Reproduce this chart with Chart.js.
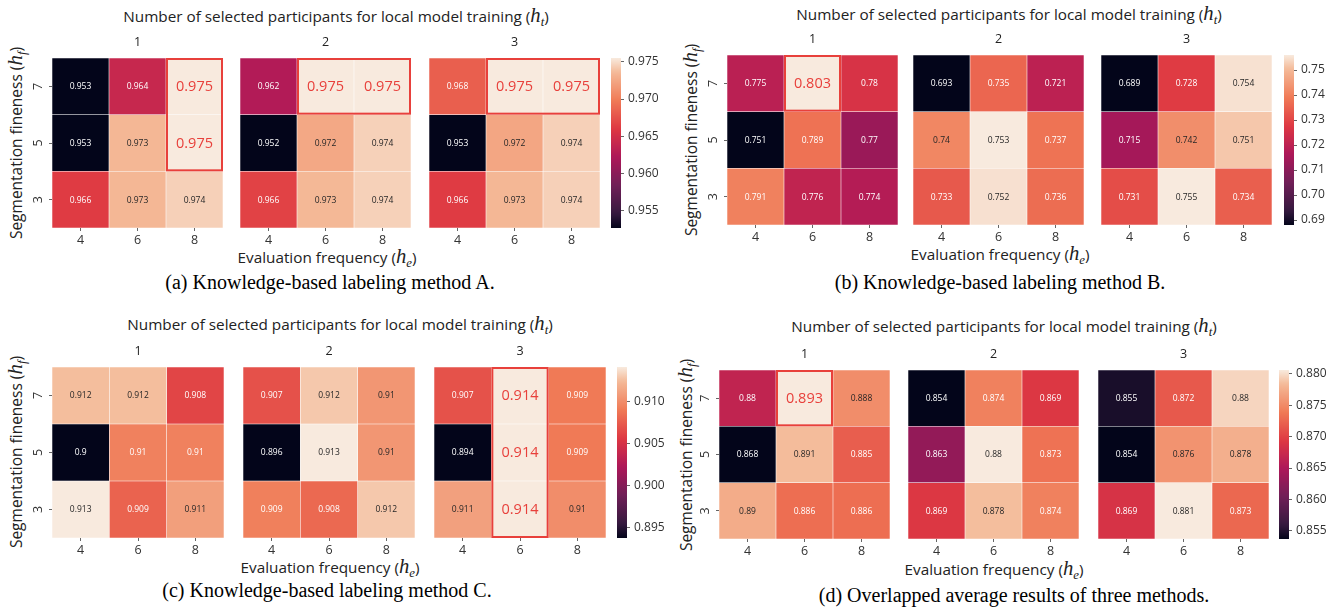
<!DOCTYPE html>
<html><head><meta charset="utf-8">
<script src="https://cdn.jsdelivr.net/npm/chart.js@4.4.1/dist/chart.umd.min.js"></script>
<style>
html,body{margin:0;padding:0;background:#fff;}
body{width:1340px;height:612px;position:relative;overflow:hidden;font-family:"Open Sans",sans-serif;color:#222;}
canvas{position:absolute;}
.t{position:absolute;white-space:nowrap;transform:translate(-50%,-50%);line-height:1;}
.title{font-size:15.3px;}
.xl{font-size:15.3px;}
.yl{font-size:15.5px;transform:translate(-50%,-50%) rotate(-90deg);}
.cap{font-family:"Liberation Serif","Times New Roman",serif;font-size:20px;color:#000;}
.m{font-family:"Liberation Serif",serif;font-style:italic;font-size:1.35em;}
.m sub{font-size:0.62em;vertical-align:-0.3em;}
</style>
</head><body>
<div class="t title" style="left:336px;top:17px">Number of selected participants for local model training (<span class="m">h<sub>t</sub></span>)</div>
<div class="t title" style="left:1009px;top:15px">Number of selected participants for local model training (<span class="m">h<sub>t</sub></span>)</div>
<div class="t title" style="left:340px;top:325px">Number of selected participants for local model training (<span class="m">h<sub>t</sub></span>)</div>
<div class="t title" style="left:1004px;top:327px">Number of selected participants for local model training (<span class="m">h<sub>t</sub></span>)</div>

<div class="t yl" style="left:17px;top:143px">Segmentation fineness (<span class="m">h<sub>f</sub></span>)</div>
<div class="t yl" style="left:692px;top:140px">Segmentation fineness (<span class="m">h<sub>f</sub></span>)</div>
<div class="t yl" style="left:17px;top:452px">Segmentation fineness (<span class="m">h<sub>f</sub></span>)</div>
<div class="t yl" style="left:687px;top:455px">Segmentation fineness (<span class="m">h<sub>f</sub></span>)</div>

<div class="t xl" style="left:327px;top:258px">Evaluation frequency (<span class="m">h<sub>e</sub></span>)</div>
<div class="t xl" style="left:1000px;top:255px">Evaluation frequency (<span class="m">h<sub>e</sub></span>)</div>
<div class="t xl" style="left:330px;top:568px">Evaluation frequency (<span class="m">h<sub>e</sub></span>)</div>
<div class="t xl" style="left:994px;top:570px">Evaluation frequency (<span class="m">h<sub>e</sub></span>)</div>

<div class="t cap" style="left:330px;top:282px">(a) Knowledge-based labeling method A.</div>
<div class="t cap" style="left:1000px;top:282px">(b) Knowledge-based labeling method B.</div>
<div class="t cap" style="left:327px;top:590px">(c) Knowledge-based labeling method C.</div>
<div class="t cap" style="left:1014px;top:595px">(d) Overlapped average results of three methods.</div>

<script>
// ---------- data ----------
const subplotTitles = ['1', '2', '3'];          // h_t
const colLabels = ['4', '6', '8'];              // h_e
const rowLabels = ['7', '5', '3'];              // h_f, top to bottom

// each: [subplot h_t=1, 2, 3], rows top->bottom (7,5,3), cols (4,6,8)
const methodA = [
  [[0.953, 0.964, 0.975], [0.953, 0.973, 0.975], [0.966, 0.973, 0.974]],
  [[0.962, 0.975, 0.975], [0.952, 0.972, 0.974], [0.966, 0.973, 0.974]],
  [[0.968, 0.975, 0.975], [0.953, 0.972, 0.974], [0.966, 0.973, 0.974]]
];
const methodB = [
  [[0.775, 0.803, 0.78], [0.751, 0.789, 0.77], [0.791, 0.776, 0.774]],
  [[0.693, 0.735, 0.721], [0.74, 0.753, 0.737], [0.733, 0.752, 0.736]],
  [[0.689, 0.728, 0.754], [0.715, 0.742, 0.751], [0.731, 0.755, 0.734]]
];
const methodC = [
  [[0.912, 0.912, 0.908], [0.9, 0.91, 0.91], [0.913, 0.909, 0.911]],
  [[0.907, 0.912, 0.91], [0.896, 0.913, 0.91], [0.909, 0.908, 0.912]],
  [[0.907, 0.914, 0.909], [0.894, 0.914, 0.909], [0.911, 0.914, 0.91]]
];
const methodAvg = [
  [[0.88, 0.893, 0.888], [0.868, 0.891, 0.885], [0.89, 0.886, 0.886]],
  [[0.854, 0.874, 0.869], [0.863, 0.88, 0.873], [0.869, 0.878, 0.874]],
  [[0.855, 0.872, 0.88], [0.854, 0.876, 0.878], [0.869, 0.881, 0.873]]
];
const cbTicksA = [0.955, 0.960, 0.965, 0.970, 0.975];
const cbTicksB = [0.69, 0.70, 0.71, 0.72, 0.73, 0.74, 0.75];
const cbTicksC = [0.895, 0.900, 0.905, 0.910];
const cbTicksD = [0.855, 0.860, 0.865, 0.870, 0.875, 0.880];
const cbRangeA = [0.9527, 0.9755];
const cbRangeB = [0.688, 0.756];
const cbRangeC = [0.8938, 0.9141];
const cbRangeD = [0.8537, 0.8806];

// ---------- style / layout ----------
const FONT = '"Open Sans", sans-serif';
Chart.defaults.font.family = FONT;
const panels = [
  {data: methodA, xs: [52, 240, 429], w: 171, y0: 58, h: 170, cbx: 611, cbTicks: cbTicksA, cbRange: cbRangeA, dec: 3},
  {data: methodB, xs: [727, 913, 1101], w: 171, y0: 55, h: 170, cbx: 1284, cbTicks: cbTicksB, cbRange: cbRangeB, dec: 2},
  {data: methodC, xs: [52, 243, 434], w: 172, y0: 367, h: 171, cbx: 617, cbTicks: cbTicksC, cbRange: cbRangeC, dec: 3},
  {data: methodAvg, xs: [719, 908, 1098], w: 171, y0: 370, h: 169, cbx: 1279, cbTicks: cbTicksD, cbRange: cbRangeD, dec: 3}
];
const rocketStops = [
  [0, [3, 5, 26]], [0.083, [53, 25, 62]], [0.25, [112, 31, 87]], [0.417, [173, 23, 89]],
  [0.583, [222, 56, 66]], [0.75, [240, 122, 86]], [0.917, [244, 186, 152]], [1, [248, 234, 222]]
];
function rocket(t) {
  t = Math.max(0, Math.min(1, t));
  for (let i = 1; i < rocketStops.length; i++) {
    const [t1, c1] = rocketStops[i];
    const [t0, c0] = rocketStops[i - 1];
    if (t <= t1) {
      const f = (t - t0) / (t1 - t0);
      return c0.map((v, j) => Math.round(v + (c1[j] - v) * f));
    }
  }
  return rocketStops[rocketStops.length - 1][1];
}
function lum(c) {
  const l = c.map(v => { v /= 255; return v <= 0.03928 ? v / 12.92 : Math.pow((v + 0.055) / 1.055, 2.4); });
  return 0.2126 * l[0] + 0.7152 * l[1] + 0.0722 * l[2];
}
const RED = '#e8403b';

const annotPlugin = {
  id: 'annot',
  afterDatasetsDraw(chart, args, opts) {
    const ctx = chart.ctx;
    const vals = opts.values, best = opts.best;
    let bx0 = Infinity, by0 = Infinity, bx1 = -Infinity, by1 = -Infinity;
    ctx.save();
    ctx.textAlign = 'center';
    ctx.textBaseline = 'middle';
    chart.data.datasets.forEach((ds, di) => {
      const meta = chart.getDatasetMeta(di);
      const r = ds.rowIndex;
      meta.data.forEach((el, c) => {
        const p = el.getProps(['x', 'y', 'base', 'width'], true);
        const cx = p.x, cy = (p.y + p.base) / 2;
        const v = vals[r][c];
        if (v === best) {
          ctx.fillStyle = RED;
          ctx.font = '14.5px ' + FONT;
          bx0 = Math.min(bx0, p.x - p.width / 2); bx1 = Math.max(bx1, p.x + p.width / 2);
          by0 = Math.min(by0, Math.min(p.y, p.base)); by1 = Math.max(by1, Math.max(p.y, p.base));
        } else {
          ctx.fillStyle = ds.textColors[c];
          ctx.font = '8.5px ' + FONT;
        }
        ctx.fillText(String(v), cx, cy + 0.5);
      });
    });
    if (bx0 < Infinity) {
      ctx.strokeStyle = RED;
      ctx.lineWidth = 2;
      ctx.strokeRect(bx0 + 1, by0 + 1, bx1 - bx0 - 2, by1 - by0 - 2);
    }
    ctx.restore();
  }
};

function makeHeatmap(panel, k) {
  const vals = panel.data[k];
  const flat = vals.flat();
  const vmin = Math.min(...flat), vmax = Math.max(...flat);
  const best = Math.max(...panel.data.flat(2));
  const isFirst = k === 0;
  const L = isFirst ? 52 : 0, T = 23, B = 24;
  const cv = document.createElement('canvas');
  cv.width = L + panel.w; cv.height = T + panel.h + B;
  cv.style.left = (panel.xs[k] - L) + 'px';
  cv.style.top = (panel.y0 - T) + 'px';
  document.body.appendChild(cv);
  const datasets = [];
  for (let r = rowLabels.length - 1; r >= 0; r--) {
    const cols = vals[r].map(v => rocket((v - vmin) / (vmax - vmin)));
    datasets.push({
      data: vals[r].map(() => 1),
      rowIndex: r,
      textColors: cols.map(c => lum(c) > 0.36 ? '#262626' : '#ffffff'),
      backgroundColor: cols.map(c => `rgb(${c[0]},${c[1]},${c[2]})`),
      borderColor: 'rgba(255,255,255,0.3)',
      borderWidth: 0.6,
      borderSkipped: false
    });
  }
  new Chart(cv, {
    type: 'bar',
    data: {labels: colLabels, datasets},
    options: {
      responsive: false, animation: false, devicePixelRatio: 1, events: [],
      layout: {padding: 0},
      datasets: {bar: {categoryPercentage: 1, barPercentage: 1}},
      plugins: {
        legend: {display: false}, tooltip: {enabled: false},
        title: {display: true, text: subplotTitles[k], fullSize: false, color: '#222',
          font: {family: FONT, size: 12.5, weight: 'normal'}, padding: {top: 0, bottom: 8}},
        annot: {values: vals, best}
      },
      scales: {
        x: {
          stacked: true,
          grid: {display: true, offset: false, drawOnChartArea: false, drawTicks: true, tickLength: 3, tickColor: '#666'},
          border: {display: false},
          ticks: {color: '#333', font: {family: FONT, size: 12.5}, padding: 2, maxRotation: 0},
          afterFit(s) { s.height = B; }
        },
        y: {
          display: isFirst, stacked: true, min: 0, max: 3,
          grid: {drawOnChartArea: false, drawTicks: true, tickLength: 3, tickColor: '#666'},
          border: {display: false},
          afterBuildTicks(s) { s.ticks = rowLabels.map((_, i) => ({value: i + 0.5})); },
          ticks: {
            callback: (v) => rowLabels[rowLabels.length - 1 - Math.floor(v)],
            minRotation: 90, maxRotation: 90, crossAlign: 'center', padding: 6.5,
            color: '#333', font: {family: FONT, size: 12.5}
          },
          afterFit(s) { s.width = L; }
        }
      }
    },
    plugins: [annotPlugin]
  });
}

function makeColorbar(panel) {
  const PADV = 12, AX = 50, BW = 10;
  const cv = document.createElement('canvas');
  cv.width = BW + AX; cv.height = panel.h + 2 * PADV;
  cv.style.left = panel.cbx + 'px';
  cv.style.top = (panel.y0 - PADV) + 'px';
  document.body.appendChild(cv);
  new Chart(cv, {
    type: 'bar',
    data: {labels: [''], datasets: [{
      data: [panel.cbRange],
      borderWidth: 0,
      backgroundColor: (c) => {
        const chart = c.chart;
        const area = chart.chartArea;
        if (!area) return 'rgba(0,0,0,0)';
        const g = chart.ctx.createLinearGradient(0, area.bottom, 0, area.top);
        for (let i = 0; i <= 40; i++) {
          const t = i / 40;
          const col = rocket(t);
          g.addColorStop(t, `rgb(${col[0]},${col[1]},${col[2]})`);
        }
        return g;
      }
    }]},
    options: {
      responsive: false, animation: false, devicePixelRatio: 1, events: [],
      layout: {padding: {top: PADV, bottom: PADV, left: 0, right: 0}},
      datasets: {bar: {categoryPercentage: 1, barPercentage: 1}},
      plugins: {legend: {display: false}, tooltip: {enabled: false}},
      scales: {
        x: {display: false},
        y: {
          position: 'right', min: panel.cbRange[0], max: panel.cbRange[1],
          afterBuildTicks(s) { s.ticks = panel.cbTicks.map(v => ({value: v})); },
          ticks: {callback: (v) => Number(v).toFixed(panel.dec), padding: 4, color: '#333', font: {family: FONT, size: 12}},
          grid: {drawOnChartArea: false, drawTicks: true, tickLength: 3, tickColor: '#666'},
          border: {display: false},
          afterFit(s) { s.width = AX; }
        }
      }
    }
  });
}

panels.forEach(p => {
  for (let k = 0; k < 3; k++) makeHeatmap(p, k);
  makeColorbar(p);
});
</script>
</body></html>
